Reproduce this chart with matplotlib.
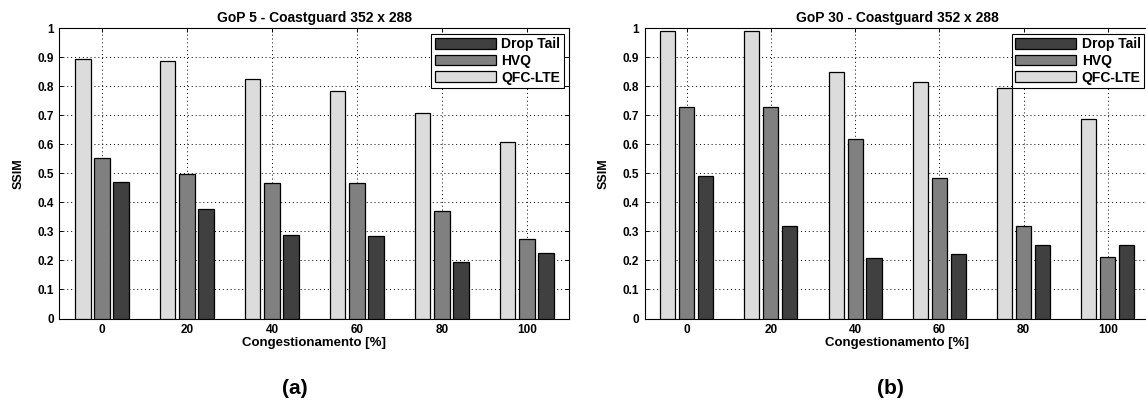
import matplotlib
matplotlib.use('Agg')
import matplotlib.pyplot as plt
import numpy as np

plt.rcParams['font.family'] = ['Liberation Sans', 'DejaVu Sans']
plt.rcParams['font.weight'] = 'bold'

# congestion levels [%]
congestion = [0, 20, 40, 60, 80, 100]

# GoP 5 - SSIM per scheme
gop5_qfc = [0.894, 0.885, 0.823, 0.783, 0.706, 0.606]
gop5_hvq = [0.551, 0.497, 0.467, 0.467, 0.371, 0.273]
gop5_drop = [0.469, 0.376, 0.289, 0.284, 0.195, 0.224]

# GoP 30 - SSIM per scheme
gop30_qfc = [0.989, 0.989, 0.848, 0.814, 0.792, 0.686]
gop30_hvq = [0.729, 0.729, 0.619, 0.483, 0.319, 0.212]
gop30_drop = [0.491, 0.318, 0.209, 0.221, 0.252, 0.252]

titles = ['GoP 5 - Coastguard 352 x 288', 'GoP 30 - Coastguard 352 x 288']
panel_labels = ['(a)', '(b)']

C_DROP = '#404040'
C_HVQ = '#808080'
C_QFC = '#dcdcdc'


def draw_panel(ax, qfc, hvq, drop, title):
    x = np.array(congestion, dtype=float)
    w = 3.6
    off = 4.5
    # matlab-like grouped bars: QFC left, HVQ centre, Drop Tail right
    b_qfc = ax.bar(x - off, qfc, w, color=C_QFC, edgecolor='black', linewidth=0.9, zorder=3)
    b_hvq = ax.bar(x, hvq, w, color=C_HVQ, edgecolor='black', linewidth=0.9, zorder=3)
    b_drop = ax.bar(x + off, drop, w, color=C_DROP, edgecolor='black', linewidth=0.9, zorder=3)

    ax.set_xlim(-10, 110)
    ax.set_ylim(0, 1)
    ax.set_xticks(congestion)
    ax.set_yticks(np.arange(0, 1.01, 0.1))
    ax.set_yticklabels(['0'] + ['%.1f' % v for v in np.arange(0.1, 0.95, 0.1)] + ['1'])
    ax.grid(True, linestyle=(0, (1, 3)), color='black', linewidth=0.7, zorder=0)
    ax.tick_params(direction='in', top=True, right=True, labelsize=8.5, length=3, width=0.7, pad=4)
    for s in ax.spines.values():
        s.set_linewidth(0.8)
    ax.set_title(title, fontsize=10, fontweight='bold', pad=4)
    ax.set_xlabel('Congestionamento [%]', fontsize=9.5, fontweight='bold', labelpad=1)
    ax.set_ylabel('SSIM', fontsize=9, fontweight='bold', labelpad=9)

    leg = ax.legend([b_drop, b_hvq, b_qfc], ['Drop Tail', 'HVQ', 'QFC-LTE'],
                    loc='upper right', fontsize=10, fancybox=False, framealpha=1,
                    edgecolor='black', handlelength=4.4, handleheight=0.8,
                    borderaxespad=0.4, borderpad=0.25, labelspacing=0.2, handletextpad=0.4)
    leg.get_frame().set_linewidth(0.8)


fig = plt.figure(figsize=(11.46, 4.01), dpi=100)
ax1 = fig.add_axes([0.0519, 0.2057, 0.445, 0.7244])
ax2 = fig.add_axes([0.5624, 0.2057, 0.441, 0.7244])

draw_panel(ax1, gop5_qfc, gop5_hvq, gop5_drop, titles[0])
draw_panel(ax2, gop30_qfc, gop30_hvq, gop30_drop, titles[1])

fig.text(295 / 1146, 1 - 388 / 401, panel_labels[0], fontsize=15, fontweight='bold',
         ha='center', va='center')
fig.text(890 / 1146, 1 - 388 / 401, panel_labels[1], fontsize=15, fontweight='bold',
         ha='center', va='center')

fig.savefig('out.png', dpi=100)
